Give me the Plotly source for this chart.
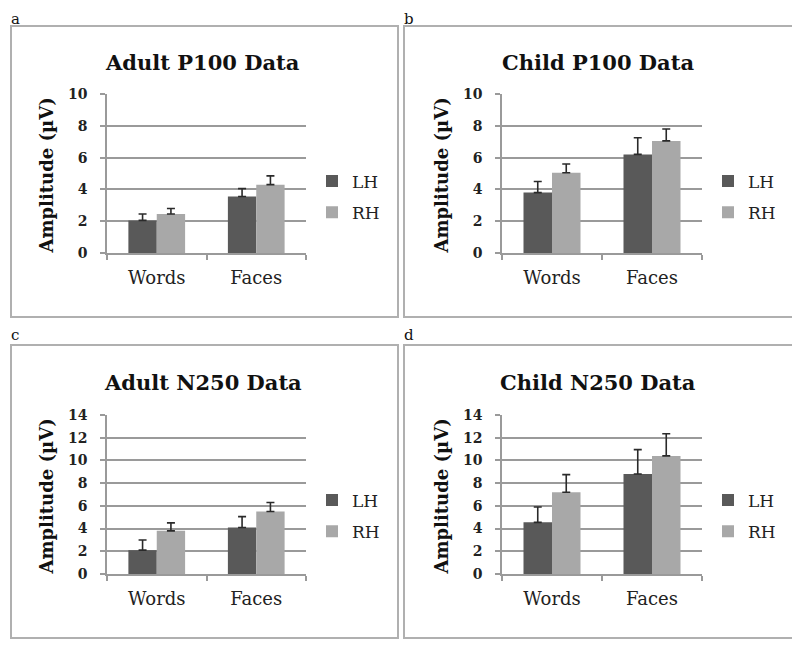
import plotly.graph_objects as go

# the page body has an 8px margin, so the figure is 16px smaller and every
# reference pixel position is shifted by that margin
OFF = 8
W, H = 800 - 2 * OFF, 645 - OFF

categories = ["Words", "Faces"]
series_names = ["LH", "RH"]

titles = ["Adult P100 Data", "Child P100 Data", "Adult N250 Data", "Child N250 Data"]
panel_letters = ["a", "b", "c", "d"]

# values (µV)
adult_p100_lh = [2.05, 3.55]
adult_p100_lh_err = [0.40, 0.50]
adult_p100_rh = [2.45, 4.30]
adult_p100_rh_err = [0.35, 0.55]

child_p100_lh = [3.80, 6.20]
child_p100_lh_err = [0.70, 1.05]
child_p100_rh = [5.05, 7.05]
child_p100_rh_err = [0.55, 0.75]

adult_n250_lh = [2.10, 4.10]
adult_n250_lh_err = [0.90, 0.95]
adult_n250_rh = [3.80, 5.50]
adult_n250_rh_err = [0.70, 0.80]

child_n250_lh = [4.55, 8.80]
child_n250_lh_err = [1.35, 2.15]
child_n250_rh = [7.20, 10.40]
child_n250_rh_err = [1.55, 1.95]

y_max = [10, 10, 14, 14]
y_ticks_p100 = [0, 2, 4, 6, 8, 10]
y_ticks_n250 = [0, 2, 4, 6, 8, 10, 12, 14]

panels = [
    (adult_p100_lh, adult_p100_lh_err, adult_p100_rh, adult_p100_rh_err),
    (child_p100_lh, child_p100_lh_err, child_p100_rh, child_p100_rh_err),
    (adult_n250_lh, adult_n250_lh_err, adult_n250_rh, adult_n250_rh_err),
    (child_n250_lh, child_n250_lh_err, child_n250_rh, child_n250_rh_err),
]

LH_COLOR = "#595959"
RH_COLOR = "#a8a8a8"
GRID = "#9a9a9a"
SERIF = "DejaVu Serif"

# layout geometry (reference pixels)
plot_x = [(107, 306), (502, 702), (107, 306), (502, 702)]
plot_y = [(94, 253), (94, 253), (415, 574), (415, 574)]
boxes = [(11, 26, 398, 317), (404, 26, 797, 317), (11, 345, 398, 638), (404, 345, 797, 638)]
letter_pos = [(9, 8), (402, 8), (9, 324), (402, 324)]
legend_pos = [(312, 197), (708, 197), (312, 516), (708, 516)]


def px(x):
    return (x - OFF) / W


def py(y):
    return 1 - (y - OFF) / H


fig = go.Figure()
layout = dict(
    width=W, height=H, autosize=False,
    margin=dict(l=0, r=0, t=0, b=0, pad=0, autoexpand=False),
    paper_bgcolor="white", plot_bgcolor="white",
    barmode="group", bargap=0.43, bargroupgap=0.0,
    showlegend=True,
    shapes=[], annotations=[],
)

for i, (lh, lh_err, rh, rh_err) in enumerate(panels):
    n = "" if i == 0 else str(i + 1)
    xa, ya = "x" + n, "y" + n
    lg = "legend" + n
    for name, vals, errs, col in [("LH", lh, lh_err, LH_COLOR), ("RH", rh, rh_err, RH_COLOR)]:
        fig.add_trace(go.Bar(
            x=categories, y=vals, name=name, marker=dict(color=col, line=dict(width=0)),
            error_y=dict(type="data", array=errs, symmetric=False, arrayminus=[0] * len(errs),
                         color="#2a2a2a", thickness=1.6, width=4),
            xaxis=xa, yaxis=ya, legend=lg, legendgroup=name + n,
        ))
    x0, x1 = plot_x[i]
    y0, y1 = plot_y[i]
    layout["xaxis" + n] = dict(
        domain=[px(x0), px(x1)], anchor=ya, type="category",
        showline=True, linecolor=GRID, linewidth=1.5,
        ticks="outside", tickson="boundaries", ticklen=5, tickcolor=GRID, tickwidth=1.5,
        tickfont=dict(family=SERIF, size=18, color="#222222"),
        showgrid=False, fixedrange=True, ticklabelstandoff=8,
    )
    tv = y_ticks_p100 if y_max[i] == 10 else y_ticks_n250
    layout["yaxis" + n] = dict(
        domain=[py(y1), py(y0)], anchor=xa, range=[0, y_max[i]],
        tickvals=tv, ticktext=[str(v) for v in tv],
        showline=True, linecolor=GRID, linewidth=1.5,
        ticks="outside", ticklen=5, tickcolor=GRID, tickwidth=1.5,
        showgrid=True, gridcolor=GRID, gridwidth=2,
        zeroline=False,
        tickfont=dict(family=SERIF, size=14, color="#222222", weight="bold"),
        ticklabelstandoff=10, fixedrange=True,
    )
    lx, ly = legend_pos[i]
    layout[lg] = dict(
        x=px(lx), y=py(ly), xanchor="left", yanchor="middle",
        font=dict(family=SERIF, size=17, color="#222222"),
        bgcolor="rgba(0,0,0,0)", borderwidth=0,
        tracegroupgap=6, traceorder="grouped",
    )
    # panel box
    bx0, by0, bx1, by1 = boxes[i]
    layout["shapes"].append(dict(
        type="rect", xref="paper", yref="paper",
        x0=px(bx0), x1=px(bx1), y0=py(by1), y1=py(by0),
        line=dict(color="#b0b0b0", width=2), fillcolor="rgba(0,0,0,0)", layer="below",
    ))
    # title
    layout["annotations"].append(dict(
        text=titles[i], xref="paper", yref="paper",
        x=px((x0 + x1) / 2 - 4), y=py(62 if i < 2 else 382),
        xanchor="center", yanchor="middle", showarrow=False,
        font=dict(family=SERIF, size=21, color="#111111", weight="bold"),
    ))
    # y-axis title
    layout["annotations"].append(dict(
        text="Amplitude (µV)", xref="paper", yref="paper",
        x=px(x0 - 61), y=py((y0 + y1) / 2 + 2),
        xanchor="center", yanchor="middle", textangle=-90, showarrow=False,
        font=dict(family=SERIF, size=18, color="#111111", weight="bold"),
    ))
    # panel letter
    lx0, ly0 = letter_pos[i]
    layout["annotations"].append(dict(
        text=panel_letters[i], xref="paper", yref="paper",
        x=px(lx0), y=py(ly0), xanchor="left", yanchor="top", showarrow=False,
        font=dict(family=SERIF, size=15, color="#111111"),
    ))

fig.update_layout(**layout)
fig.write_html("out.html")
